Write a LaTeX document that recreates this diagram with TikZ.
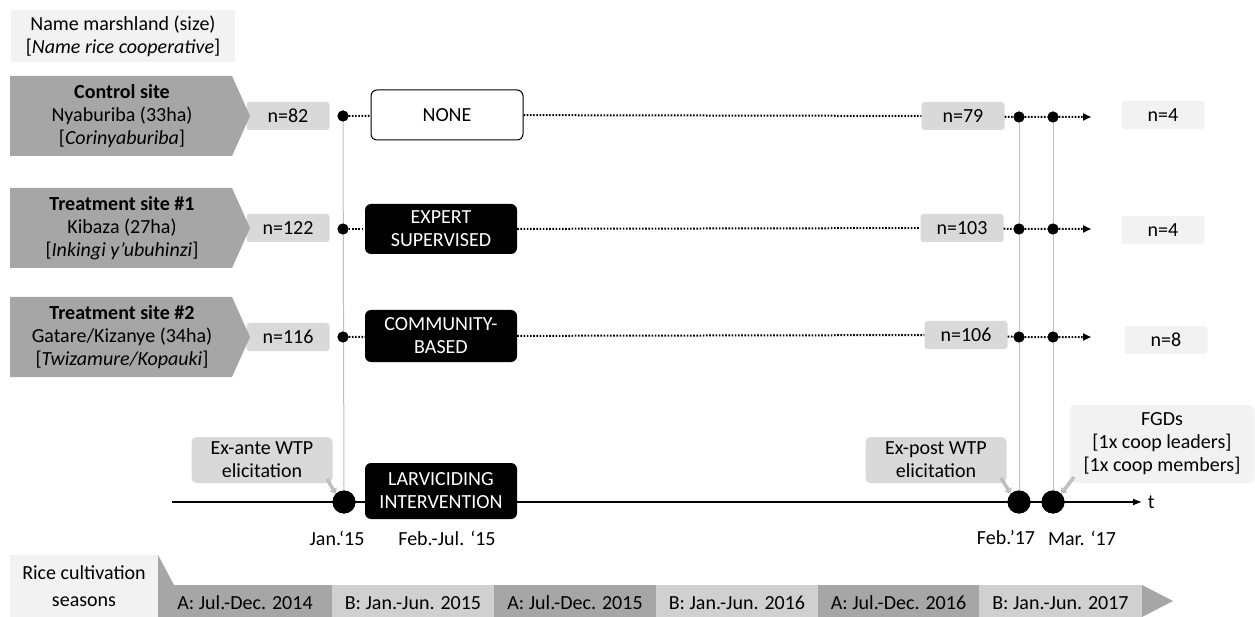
\documentclass[tikz,border=0pt]{standalone}
\usepackage{fontspec}
\setmainfont{Carlito}
\usepackage{xcolor}
\usepackage{tikz}
\usetikzlibrary{arrows.meta,positioning,calc}

\definecolor{darkgr}{HTML}{A6A6A6}
\definecolor{midgr}{HTML}{D9D9D9}
\definecolor{lightgr}{HTML}{F2F2F2}
\definecolor{seasonB}{HTML}{D0D0D0}
\definecolor{linegr}{HTML}{BFBFBF}

\tikzset{
  nbox/.style={fill=midgr, rounded corners=3bp, minimum width=83bp, minimum height=28bp, inner sep=0pt},
  nlast/.style={nbox, fill=lightgr},
  treat/.style={fill=black, text=white, rounded corners=6bp, minimum width=152bp, align=center, inner sep=0pt},
  ctrlbox/.style={draw=black, fill=white, line width=1bp, rounded corners=6bp, minimum width=152bp, minimum height=50bp, inner sep=0pt},
  callout/.style={fill=midgr, rounded corners=5bp, align=center, inner sep=0pt},
  smalldot/.style={circle, fill=black, minimum size=11bp, inner sep=0pt},
  bigdot/.style={circle, fill=black, minimum size=23bp, inner sep=0pt},
  track/.style={line width=2bp, dash pattern=on 1.6bp off 1.6bp},
  hint/.style={linegr, line width=3.5bp, -{Triangle[length=5bp,width=8bp]}}
}

\begin{document}
\begin{tikzpicture}[x=1bp,y=-1bp, every node/.style={font=\fontsize{20bp}{23bp}\selectfont}]
\useasboundingbox (0,0) rectangle (1255,617);

% legend
\node[fill=lightgr, minimum width=223bp, minimum height=52bp, align=center, inner sep=0pt] (legend) at (123,36) {Name marshland (size)\\{[}\textit{Name rice cooperative}{]}};

% sites and sample sizes at baseline
\foreach \y/\nn [count=\i] in {116/82, 228/122, 337/116} {
  \node[nbox] (nA\i) at (288,\y) {n=\nn};
  \fill[darkgr] (10,\y-40) -- (232,\y-40) -- (250,\y) -- (232,\y+40) -- (10,\y+40) -- cycle;
}
\node[align=center] (site1) at (122,116) {\textbf{Control site}\\Nyaburiba (33ha)\\{[}\textit{Corinyaburiba}{]}};
\node[align=center] (site2) at (122,228) {\textbf{Treatment site \#1}\\Kibaza (27ha)\\{[}\textit{Inkingi y’ubuhinzi}{]}};
\node[align=center] (site3) at (122,337) {\textbf{Treatment site \#2}\\Gatare/Kizanye (34ha)\\{[}\textit{Twizamure/Kopauki}{]}};

% timeline
\coordinate (tstart) at (172,502);
\coordinate (tend) at (1142,502);
\draw[line width=1.3bp, -{Latex[length=9bp,width=7bp]}] (tstart) -- (tend) node[right=2bp] (tlab) {t};

% interventions
\node[ctrlbox] (none) at (447,115) {NONE};
\node[treat, minimum height=50bp] (expert) at (441,229) {EXPERT\\SUPERVISED};
\node[treat, minimum height=52bp] (comm) at (441,336) {COMMUNITY-\\BASED};
\node[treat, minimum height=56bp] (larv) at (441,491) {LARVICIDING\\INTERVENTION};

% follow-up sample sizes
\node[nbox] (nB1) at (963,116) {n=79};
\node[nbox] (nB2) at (962,228) {n=103};
\node[nbox] (nB3) at (966,335) {n=106};
\node[nlast] (nC1) at (1163,115) {n=4};
\node[nlast] (nC2) at (1163,230) {n=4};
\node[nlast] (nC3) at (1166,340) {n=8};

% vertical guides
\node[smalldot] (s1) at (343,116) {};
\node[smalldot] (s2) at (343,229) {};
\node[smalldot] (s3) at (343,337) {};
\foreach \y [count=\i] in {117, 229, 337} {
  \node[smalldot] (p\i) at (1019,\y) {};
  \node[smalldot] (q\i) at (1053,\y) {};
  \coordinate (e\i) at (1091,\y);
}
\node[bigdot] (b1) at (344,502) {};
\node[bigdot] (b2) at (1019,502) {};
\node[bigdot] (b3) at (1053,502) {};
\draw[linegr, line width=1bp] (s1) -- (b1);
\draw[linegr, line width=1bp] (p1) -- (b2);
\draw[linegr, line width=1bp] (q1) -- (b3);
\foreach \i in {1,2,3} {
  \node[smalldot] at (p\i) {};
  \node[smalldot] at (q\i) {};
  \node[smalldot] at (s\i) {};
  \node[bigdot] at (b\i) {};
}

% dotted tracks
\draw[track] (s1) -- (none);
\draw[track] (none) -- (nB1);
\draw[track] (s2) -- (expert);
\draw[track] (expert) -- (nB2);
\draw[track] (s3) -- (comm);
\draw[track] (comm) -- (nB3);
\foreach \i in {1,2,3}
  \draw[track, -{Triangle[length=8bp,width=7bp]}] (nB\i) -- (p\i) -- (q\i) -- (e\i);

% callouts
\node[callout, minimum width=141bp, minimum height=46bp] (exante) at (262,460) {Ex-ante WTP\\elicitation};
\node[callout, minimum width=141bp, minimum height=46bp] (expost) at (936,460) {Ex-post WTP\\elicitation};
\node[callout, fill=lightgr, minimum width=185bp, minimum height=78bp] (fgd) at (1162,444) {FGDs\\{[}1x coop leaders{]}\\{[}1x coop members{]}};
\coordinate (h1) at (327,479);
\coordinate (h2) at (1001,478);
\coordinate (h3) at (1074,477);
\draw[hint] (h1) -- (b1.north west);
\draw[hint] (h2) -- (b2.north west);
\draw[hint] (h3) -- (b3.north east);

% dates
\node (jan15) at (337,538) {Jan.‘15};
\node (febjul15) at (447,538) {Feb.-Jul. ‘15};
\node (feb17) at (1006,538) {Feb.’17};
\node (mar17) at (1082,538) {Mar. ‘17};

% rice seasons
\node[fill=lightgr, minimum width=148bp, minimum height=62bp, inner sep=0pt, align=center] (rice) at (84,586) {Rice cultivation\\[4bp]seasons};
\fill[darkgr] (158,555) -- (174,585) -- (158,585) -- cycle;
\foreach \xa/\xb/\lab/\col in {158/332/A: Jul.-Dec. 2014/darkgr, 332/494/B: Jan.-Jun. 2015/seasonB,
    494/656/A: Jul.-Dec. 2015/darkgr, 656/818/B: Jan.-Jun. 2016/seasonB,
    818/979/A: Jul.-Dec. 2016/darkgr, 979/1142/B: Jan.-Jun. 2017/seasonB} {
  \fill[\col] (\xa,585) rectangle (\xb,617);
  \node at ({(\xa+\xb)/2},603) {\lab};
}
\fill[darkgr] (1142,585) -- (1173,601) -- (1142,617) -- cycle;
\end{tikzpicture}
\end{document}
